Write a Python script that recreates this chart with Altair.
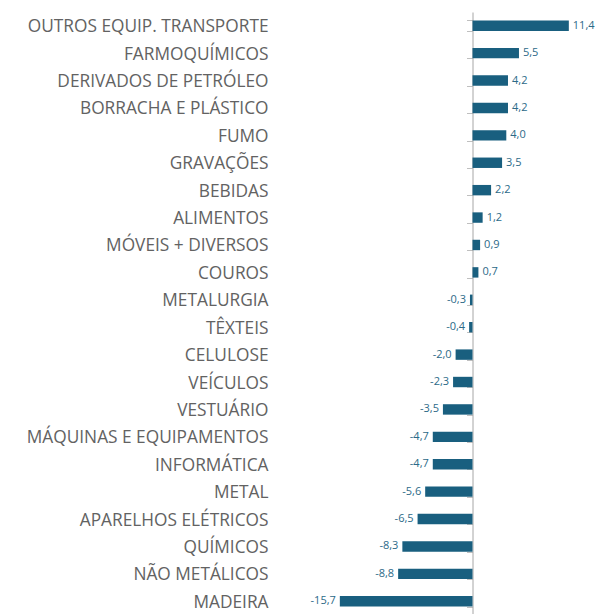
import altair as alt
import pandas as pd

categories = [
    "OUTROS EQUIP. TRANSPORTE", "FARMOQUÍMICOS", "DERIVADOS DE PETRÓLEO",
    "BORRACHA E PLÁSTICO", "FUMO", "GRAVAÇÕES", "BEBIDAS", "ALIMENTOS",
    "MÓVEIS + DIVERSOS", "COUROS", "METALURGIA", "TÊXTEIS", "CELULOSE",
    "VEÍCULOS", "VESTUÁRIO", "MÁQUINAS E EQUIPAMENTOS", "INFORMÁTICA",
    "METAL", "APARELHOS ELÉTRICOS", "QUÍMICOS", "NÃO METÁLICOS", "MADEIRA",
]
values = [11.4, 5.5, 4.2, 4.2, 4.0, 3.5, 2.2, 1.2, 0.9, 0.7, -0.3, -0.4,
          -2.0, -2.3, -3.5, -4.7, -4.7, -5.6, -6.5, -8.3, -8.8, -15.7]

df = pd.DataFrame({
    "cat": categories,
    "v": values,
    "lab": [f"{v:.1f}".replace(".", ",") for v in values],
})

PLOT_LEFT = 285
W = 312
H = 603
TOP = 12
ZERO_X = 472.5
PX_PER_UNIT = 8.45
xmin = -(ZERO_X - PLOT_LEFT) / PX_PER_UNIT
xmax = (PLOT_LEFT + W - ZERO_X) / PX_PER_UNIT

BAR = "#195f7f"
TXT = "#2c6a88"

xscale = alt.Scale(domain=[xmin, xmax], nice=False, zero=False)
yscale = alt.Scale(domain=categories, paddingInner=0.62, paddingOuter=0.31)

bars = alt.Chart(df).mark_bar(color=BAR).encode(
    x=alt.X("v:Q", scale=xscale, axis=None),
    y=alt.Y("cat:N", scale=yscale, sort=categories, title=None,
            axis=alt.Axis(orient="left", domain=False, ticks=False, tickSize=0,
                          labelPadding=17, labelFont="Open Sans", labelFontSize=17.3,
                          labelColor="#626262", labelLimit=400, labelOffset=1.5)),
)

zero_axis = alt.Chart(df).mark_bar(opacity=0).encode(
    x=alt.X("v:Q", scale=xscale, axis=None),
    y=alt.Y("cat:N", scale=yscale, sort=categories, title=None,
            axis=alt.Axis(orient="left", offset=-(ZERO_X - PLOT_LEFT), labels=False,
                          domain=True, domainColor="#a6a6a6", domainWidth=1,
                          ticks=True, tickColor="#bfbfbf", tickSize=6,
                          tickBand="extent")),
)

pos = alt.Chart(df).transform_filter("datum.v >= 0").mark_text(
    align="left", baseline="middle", dx=4, font="Open Sans", fontSize=11, color=TXT
).encode(
    x=alt.X("v:Q", scale=xscale, axis=None),
    y=alt.Y("cat:N", scale=yscale, sort=categories, axis=None),
    text="lab:N",
)

neg = alt.Chart(df).transform_filter("datum.v < 0").mark_text(
    align="right", baseline="middle", dx=-4, font="Open Sans", fontSize=11, color=TXT
).encode(
    x=alt.X("v:Q", scale=xscale, axis=None),
    y=alt.Y("cat:N", scale=yscale, sort=categories, axis=None),
    text="lab:N",
)

chart = alt.layer(bars, zero_axis, pos, neg).resolve_axis(y="independent").properties(
    width=W, height=H,
    background="white",
    autosize=alt.AutoSizeParams(type="none"),
    padding={"left": PLOT_LEFT, "top": TOP, "right": 0, "bottom": 0},
).configure_view(stroke=None)

chart.save("out.html", embed_options={"renderer": "svg", "actions": False})
